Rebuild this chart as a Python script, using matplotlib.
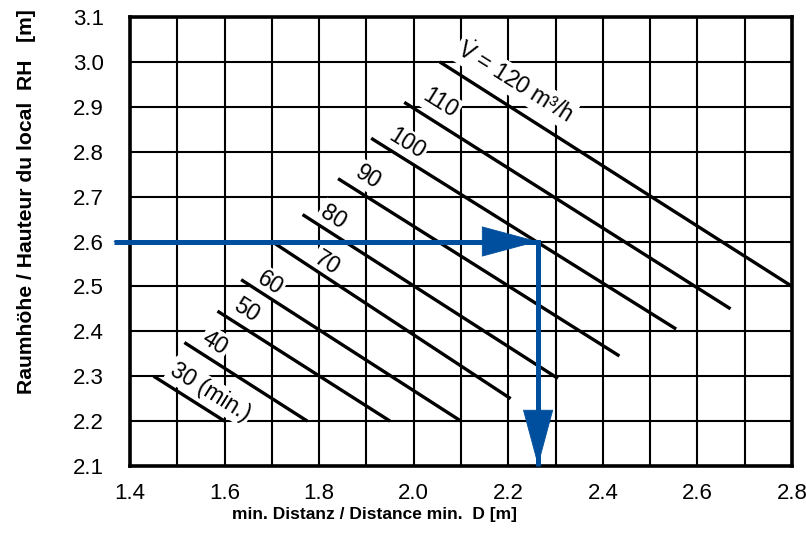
"""
Nomogram: minimum distance D against room height RH for several volume flows.
"""

import numpy as np
import matplotlib.pyplot as plt
from matplotlib import font_manager

# tick values
x_major = [1.4, 1.6, 1.8, 2.0, 2.2, 2.4, 2.6, 2.8]
x_grid = [1.4, 1.5, 1.6, 1.7, 1.8, 1.9, 2.0, 2.1, 2.2, 2.3, 2.4, 2.5, 2.6, 2.7, 2.8]
y_major = [2.1, 2.2, 2.3, 2.4, 2.5, 2.6, 2.7, 2.8, 2.9, 3.0, 3.1]

# volume flow lines (m3/h), straight segments from (d_start, rh_start) to (d_end, rh_end)
flows = [30, 40, 50, 60, 70, 80, 90, 100, 110, 120]
d_start = [1.45, 1.515, 1.585, 1.635, 1.70, 1.765, 1.84, 1.91, 1.98, 2.055]
rh_start = [2.30, 2.375, 2.445, 2.515, 2.60, 2.66, 2.74, 2.83, 2.91, 3.00]
d_end = [1.60, 1.775, 1.95, 2.10, 2.205, 2.305, 2.435, 2.555, 2.67, 2.80]
rh_end = [2.20, 2.20, 2.20, 2.20, 2.25, 2.295, 2.345, 2.405, 2.45, 2.50]

flow_labels = ["30 (min.)", "40", "50", "60", "70", "80", "90", "100", "110",
               r"$\dot{\mathrm{V}}$ = 120 m³/h"]
label_d = [1.569, 1.580, 1.647, 1.696, 1.816, 1.829, 1.903, 1.986, 2.056, 2.214]
label_rh = [2.265, 2.374, 2.447, 2.508, 2.552, 2.655, 2.744, 2.819, 2.908, 2.955]

# reading example
example_rh = 2.6
example_d = 2.263
example_from = 1.366

BLUE = "#004f9e"


def main():
    names = {f.name for f in font_manager.fontManager.ttflist}
    label_font = "Liberation Sans Narrow" if "Liberation Sans Narrow" in names else "Liberation Sans"
    narrow = label_font.endswith("Narrow")

    plt.rcParams["font.family"] = ["Liberation Sans", "DejaVu Sans"]
    plt.rcParams["mathtext.fontset"] = "custom"
    plt.rcParams["mathtext.rm"] = "Liberation Sans"

    fig = plt.figure(figsize=(8.06, 5.52), dpi=100)
    ax = fig.add_axes([130 / 806, 86 / 552, 662 / 806, 449 / 552])

    ax.set_xlim(1.4, 2.8)
    ax.set_ylim(2.1, 3.1)
    ax.set_xticks(x_major)
    ax.set_xticklabels([f"{v:.1f}" for v in x_major])
    ax.set_xticks(x_grid, minor=True)
    ax.set_yticks(y_major)
    ax.set_yticklabels([f"{v:.1f}" for v in y_major])
    ax.tick_params(which="both", length=0, labelsize=16)
    ax.tick_params(axis="x", pad=12)
    ax.tick_params(axis="y", pad=19)
    ax.grid(which="both", color="black", linewidth=1.5)
    ax.set_axisbelow(True)
    for s in ax.spines.values():
        s.set_linewidth(2.6)
        s.set_zorder(4)

    for i in range(len(flows)):
        ax.plot([d_start[i], d_end[i]], [rh_start[i], rh_end[i]],
                color="black", linewidth=2.4, solid_capstyle="butt", zorder=3)
        ax.text(label_d[i], label_rh[i], flow_labels[i], fontsize=16.5,
                rotation=-32, rotation_mode="anchor", ha="center", va="center",
                bbox=dict(facecolor="white", edgecolor="none", pad=1.5), zorder=2)

    # reading path: across at RH, then down to D
    ax.plot([example_from, example_d, example_d], [example_rh, example_rh, 2.1],
            color=BLUE, linewidth=3.6, solid_joinstyle="miter",
            solid_capstyle="butt", clip_on=False, zorder=5)
    head = dict(arrowstyle="-|>,head_length=39,head_width=10.5", color=BLUE,
                linewidth=0.6, mutation_scale=1, shrinkA=0, shrinkB=0)
    ax.annotate("", xy=(example_d, example_rh), xytext=(example_from, example_rh),
                arrowprops=head, annotation_clip=False, zorder=6)
    ax.annotate("", xy=(example_d, 2.1), xytext=(example_d, example_rh),
                arrowprops=head, annotation_clip=False, zorder=6)

    xs, ys = (15.5, 18.5) if narrow else (12.5, 15.2)
    fig.text(374 / 806, 1 - 515 / 552, "min. Distanz / Distance min.  D [m]",
             family=[label_font, "DejaVu Sans"], fontweight="bold", fontsize=xs,
             ha="center", va="center")
    fig.text(26.5 / 806, 1 - 201.5 / 552, "Raumhöhe / Hauteur du local  RH   [m]",
             family=[label_font, "DejaVu Sans"], fontweight="bold", fontsize=ys,
             rotation=90, ha="center", va="center")

    fig.savefig("out.png", dpi=100)


if __name__ == "__main__":
    main()
